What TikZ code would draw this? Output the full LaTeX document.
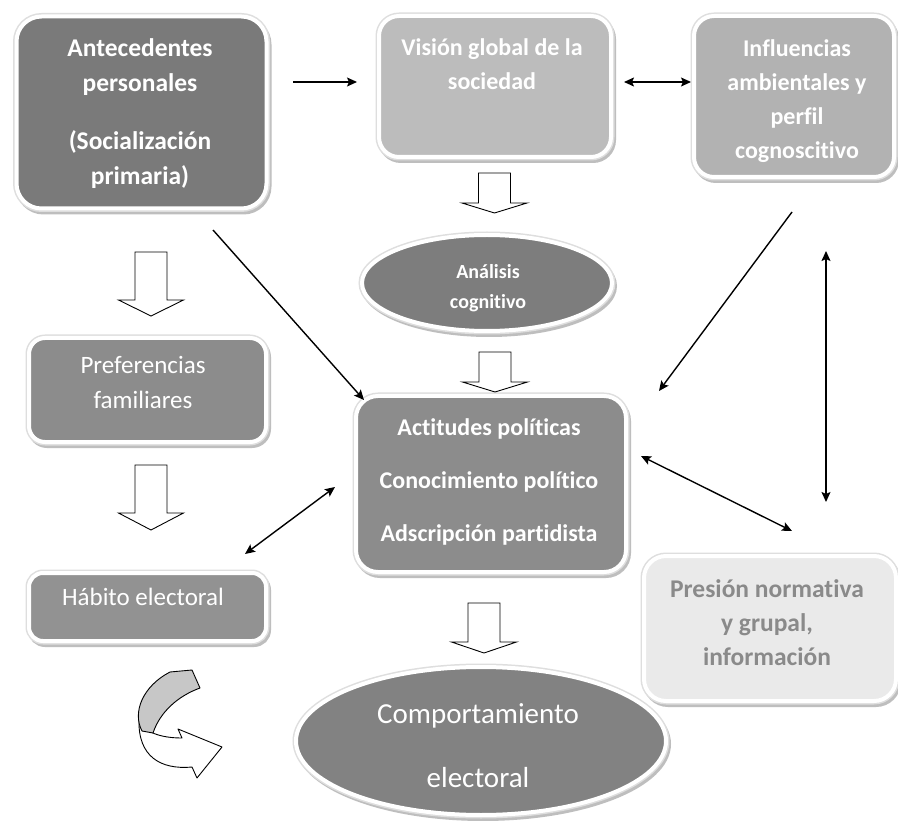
\documentclass[tikz,border=0pt]{standalone}
\usepackage{fontspec}
\setmainfont{Carlito}[Ligatures={NoCommon}]
\usetikzlibrary{shapes.geometric,arrows.meta}
\definecolor{cAnt}{RGB}{122,122,122}
\definecolor{cVis}{RGB}{188,188,188}
\definecolor{cInf}{RGB}{178,178,178}
\definecolor{cAna}{RGB}{125,125,125}
\definecolor{cAct}{RGB}{140,140,140}
\definecolor{cPre}{RGB}{140,140,140}
\definecolor{cHab}{RGB}{146,146,146}
\definecolor{cCom}{RGB}{130,130,130}
\definecolor{cPres}{RGB}{234,234,234}
\definecolor{cPresT}{RGB}{138,138,138}
\definecolor{rimgray}{RGB}{222,222,222}
\definecolor{shadowgray}{RGB}{190,190,190}
\newcommand{\myblockarrow}[4]{%
  \draw[blockarr] ({#1-16},#2) -- ({#1+16},#2) -- ({#1+16},#3) -- ({#1+32.5},#3) -- (#1,#4) -- ({#1-32.5},#3) -- ({#1-16},#3) -- cycle;}
\begin{document}
\begin{tikzpicture}[x=1pt,y=-1pt,
  shaped/.style={inner sep=0pt, outer sep=0pt, draw=white, line width=4pt,
    preaction={fill=shadowgray, draw=shadowgray, line width=6pt, transform canvas={shift={(2pt,-3pt)}}},
    preaction={draw=rimgray, line width=7pt}},
  box/.style={shaped, rectangle, rounded corners=#1},
  box/.default=20pt,
  oval/.style={shaped, ellipse},
  btxt/.style={align=center, text=white, font=\fontsize{24}{34}\selectfont\bfseries, inner sep=0pt},
  rtxt/.style={align=center, text=white, font=\fontsize{25}{35}\selectfont, inner sep=0pt},
  conn/.style={line width=1.4pt, -{Stealth[length=10pt,width=9pt,inset=2pt]}},
  dconn/.style={line width=1.4pt, {Stealth[length=10pt,width=9pt,inset=2pt]}-{Stealth[length=10pt,width=9pt,inset=2pt]}},
  blockarr/.style={draw=black, line width=0.9pt, fill=white, line join=miter}
]
\useasboundingbox (0,0) rectangle (898,821);
\fill[white] (0,0) rectangle (898,821);

% boxes
\node[box=25pt, fill=cAnt, minimum width=250pt, minimum height=192pt] (ant) at (141.5,112.5) {};
\node[box=20pt, fill=cVis, minimum width=232pt, minimum height=141pt] (vis) at (495,86.5) {};
\node[box=20pt, fill=cInf, minimum width=200pt, minimum height=161pt] (inf) at (794,96.5) {};
\node[oval, fill=cAna, minimum width=250pt, minimum height=96pt] (ana) at (487,283) {};
\node[box=22pt, fill=cAct, minimum width=270pt, minimum height=176pt] (act) at (491,484) {};
\node[box=16pt, fill=cPre, minimum width=237pt, minimum height=104pt] (pref) at (147.5,390) {};
\node[box=14pt, fill=cHab, minimum width=237pt, minimum height=68pt] (hab) at (147.5,607) {};
\node[box=22pt, fill=cPres, minimum width=252pt, minimum height=145pt] (pres) at (770,628.5) {};
\node[oval, fill=cCom, minimum width=370pt, minimum height=148pt] (com) at (481,741) {};

% texts
\node[btxt, font=\fontsize{25.5}{35}\selectfont\bfseries] (antT) at (140,114) {Antecedentes\\personales\\[23pt](Socialización\\primaria)};
\node[btxt] (visT) at (492,64) {Visión global de la\\sociedad};
\node[btxt] (infT) at (797,101) {Influencias\\ambientales y\\perfil\\cognoscitivo};
\node[btxt, font=\fontsize{20}{30}\selectfont\bfseries] (anaT) at (488,288) {Análisis\\cognitivo};
\node[btxt, font=\fontsize{24}{53}\selectfont\bfseries] (actT) at (489,482) {Actitudes políticas\\Conocimiento político\\Adscripción partidista};
\node[rtxt] (prefT) at (143,382) {Preferencias\\familiares};
\node[rtxt] (habT) at (143,597) {Hábito electoral};
\node[btxt, text=cPresT, font=\fontsize{25.5}{34}\selectfont\bfseries] (presT) at (767,623) {Presión normativa\\y grupal,\\información};
\node[rtxt, font=\fontsize{29}{64}\selectfont] (comT) at (478,746) {Comportamiento\\electoral};

% connector ends
\coordinate (a1s) at (293,82);  \coordinate (a1e) at (357,82);
\coordinate (a2s) at (624,82);  \coordinate (a2e) at (691,82);
\coordinate (a3s) at (213,230); \coordinate (a3e) at (364,400);
\coordinate (a4s) at (792,212); \coordinate (a4e) at (659,391);
\coordinate (a5s) at (826,251); \coordinate (a5e) at (826,502);
\coordinate (a6s) at (641,456); \coordinate (a6e) at (792,531);
\coordinate (a7s) at (335,487); \coordinate (a7e) at (245,554);

\draw[conn] (a1s) -- (a1e);
\draw[dconn] (a2s) -- (a2e);
\draw[conn] (a3s) -- (a3e);
\draw[conn] (a4s) -- (a4e);
\draw[dconn] (a5s) -- (a5e);
\draw[dconn] (a6s) -- (a6e);
\draw[dconn] (a7s) -- (a7e);

% hollow block arrows
\myblockarrow{494.5}{173}{203}{213}
\myblockarrow{495}{352}{382}{392}
\myblockarrow{151}{252}{300}{316}
\myblockarrow{151}{465}{513}{530}
\myblockarrow{484}{603}{642}{653}

% curved arrow
\draw[line width=0.9pt, fill=white, line join=round]
  (139,720) .. controls (144,732) and (160,738) .. (182,738) -- (178,729) -- (222,747) -- (197,778) -- (192,767)
  .. controls (160,770) and (138,756) .. (139,720) -- cycle;
\draw[line width=0.9pt, fill=black!22, line join=round]
  (170,672) -- (192,670) -- (200,688) .. controls (178,696) and (160,712) .. (153,733) -- (142,731)
  .. controls (132,712) and (143,686) .. (170,672) -- cycle;
\end{tikzpicture}
\end{document}
